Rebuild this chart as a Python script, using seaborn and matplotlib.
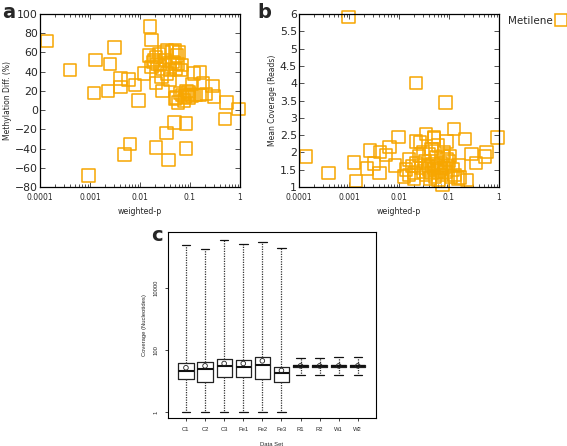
import matplotlib
matplotlib.use("Agg")
import pandas as pd
import matplotlib.pyplot as plt
import seaborn as sns
from matplotlib.lines import Line2D

sns.set_style("ticks")
plt.rcParams['font.family'] = ['DejaVu Sans']

orange = '#F7A600'

# panel a: weighted-p vs methylation difference
p_a = [0.00014, 0.0004, 0.00093, 0.0013, 0.0012, 0.0025, 0.0023, 0.0031, 0.0041, 0.0041,
       0.0059, 0.0049, 0.0063, 0.0079, 0.0093, 0.012, 0.016, 0.017, 0.015, 0.021,
       0.034, 0.037, 0.028, 0.021, 0.049, 0.083, 0.083, 0.5, 0.54, 0.93,
       0.30, 0.28, 0.21, 0.16, 0.18, 0.12, 0.16, 0.11,
       0.052, 0.063, 0.08, 0.093, 0.058, 0.07, 0.1, 0.05, 0.075, 0.085, 0.11, 0.13, 0.095,
       0.019, 0.021, 0.024, 0.03, 0.035, 0.045, 0.05, 0.055, 0.045, 0.04, 0.035, 0.04,
       0.052, 0.028, 0.022, 0.017, 0.025, 0.05, 0.058, 0.032, 0.06, 0.027, 0.065, 0.018, 0.07]
diff_a = [72, 42, -68, 52, 18, 48, 20, 65, 33, 24,
          32, -46, -35, 26, 10, 38, 87, 73, 57, -39,
          -24, -52, 20, 28, -13, -14, -40, -9, 8, 1,
          14, 25, 17, 16, 28, 38, 39, 27,
          13, 18, 14, 19, 8, 16, 17, 12, 10, 20, 15, 16, 13,
          52, 55, 58, 60, 62, 61, 62, 57, 50, 42, 38, 32,
          43, 43, 48, 45, 47, 48, 48, 52, 60, 35, 42, 50, 47]

# panel b: weighted-p vs mean coverage
p_b = [0.00097, 0.022, 0.086, 0.00014, 0.00039, 0.00126, 0.00138, 0.0026, 0.0023, 0.0032,
       0.0041, 0.0042, 0.0055, 0.0065, 0.0098, 0.0083, 0.0126, 0.022, 0.035, 0.05,
       0.089, 0.126, 0.21, 0.28, 0.35, 0.56, 0.52, 0.93, 0.23, 0.166, 0.074, 0.155,
       0.014, 0.016, 0.018, 0.02, 0.022, 0.025, 0.028, 0.03, 0.033, 0.035, 0.038, 0.04,
       0.042, 0.045, 0.047, 0.05, 0.052, 0.055, 0.058, 0.06, 0.062, 0.065, 0.07, 0.072,
       0.075, 0.08, 0.085, 0.09, 0.095, 0.1, 0.105, 0.12, 0.03, 0.045, 0.06, 0.08,
       0.04, 0.11, 0.13, 0.15, 0.02, 0.016, 0.026, 0.05]
cov_b = [5.92, 4.01, 3.44, 1.88, 1.41, 1.71, 1.17, 2.05, 1.54, 1.68,
         1.41, 2.02, 1.92, 2.16, 2.45, 1.62, 1.3, 2.31, 2.53, 2.45,
         2.31, 2.67, 2.38, 1.95, 1.7, 2.02, 1.88, 2.43, 1.2, 1.28, 1.06, 1.64,
         1.5, 1.8, 1.6, 1.4, 1.7, 1.9, 1.55, 1.45, 1.75, 1.35, 1.6, 1.5,
         1.25, 1.4, 1.65, 1.55, 1.3, 1.85, 1.45, 1.6, 1.2, 1.5, 1.7, 1.35,
         1.9, 1.55, 1.45, 1.8, 1.6, 1.75, 1.9, 1.5, 2.0, 2.1, 2.2, 2.0,
         1.95, 1.3, 1.35, 1.25, 1.25, 1.35, 2.3, 2.4]

p_ticks = [0.0001, 0.001, 0.01, 0.1, 1]
p_labels = ['0.0001', '0.001', '0.01', '0.1', '1']

# panel c: coverage per data set (five-number summaries + mean)
sets = ['C1', 'C2', 'C3', 'Fe1', 'Fe2', 'Fe3', 'R1', 'R2', 'W1', 'W2']
cov_min = [1, 1, 1, 1, 1, 1, 16, 16, 16, 16]
cov_q1 = [11.3, 9.5, 13.5, 13.5, 11.3, 9.5, 28, 28, 28, 28]
cov_med = [21.5, 24, 30, 27.6, 33.6, 18.5, 31, 31, 31, 31]
cov_q3 = [37, 42, 50, 48, 61, 29, 34, 34, 34, 34]
cov_max = [245000, 178000, 355000, 263000, 310000, 200000, 56, 57, 60, 60]
cov_mean = [27, 31, 37, 37, 45, 22, 31, 31, 31, 31]

fig = plt.figure(figsize=(5.67, 4.46), dpi=100)


def gnuplot_axes(ax):
    ax.set_xscale('log')
    ax.set_xlim(1e-4, 1)
    ax.set_xticks(p_ticks)
    ax.set_xticklabels(p_labels, fontsize=5.5)
    ax.tick_params(axis='both', which='both', direction='in', top=True, right=True,
                   width=0.6, color='#333333')
    ax.tick_params(axis='both', which='major', length=3.5)
    ax.tick_params(axis='both', which='minor', length=2)
    ax.tick_params(axis='y', labelsize=7.8, pad=1.5)
    ax.tick_params(axis='x', pad=4)
    for s in ax.spines.values():
        s.set_linewidth(0.9)
        s.set_color('black')
    ax.set_xlabel('weighted-p', fontsize=5.7, labelpad=4)


# a
ax_a = fig.add_axes([0.0705, 0.5807, 0.3527, 0.3879])
sns.scatterplot(x=p_a, y=diff_a, ax=ax_a, marker='s', s=80, facecolor='none',
                edgecolor=orange, linewidth=1.1, clip_on=False, legend=False)
gnuplot_axes(ax_a)
ax_a.set_ylim(-80, 100)
ax_a.set_yticks(range(-80, 101, 20))
ax_a.set_ylabel('Methylation Diff. (%)', fontsize=5.5, labelpad=2)

# b
ax_b = fig.add_axes([0.5273, 0.5807, 0.3527, 0.3879])
sns.scatterplot(x=p_b, y=cov_b, ax=ax_b, marker='s', s=80, facecolor='none',
                edgecolor=orange, linewidth=1.1, clip_on=False, legend=False)
gnuplot_axes(ax_b)
ax_b.set_ylim(1, 6)
ax_b.set_yticks([1, 1.5, 2, 2.5, 3, 3.5, 4, 4.5, 5, 5.5, 6])
ax_b.set_yticklabels(['1', '1.5', '2', '2.5', '3', '3.5', '4', '4.5', '5', '5.5', '6'])
ax_b.set_ylabel('Mean Coverage (Reads)', fontsize=5.5, labelpad=2)
handle = Line2D([], [], marker='s', ls='none', mfc='none', mec=orange, ms=9, mew=1.1)
ax_b.legend(handles=[handle], labels=['Metilene'], loc='center right',
            bbox_to_anchor=(1.0, 1 - 21 / 446), bbox_transform=fig.transFigure,
            frameon=False, markerfirst=False, fontsize=7.5, handlelength=1.0,
            handletextpad=0.3, borderaxespad=0, borderpad=0.1)

# c
ax_c = fig.add_axes([0.2963, 0.0628, 0.3668, 0.417])
rows = []
for i, name in enumerate(sets):
    for v in (cov_min[i], cov_q1[i], cov_med[i], cov_q3[i], cov_max[i]):
        rows.append({'set': name, 'coverage': v})
df_c = pd.DataFrame(rows)
sns.boxplot(data=df_c, x='set', y='coverage', order=sets, ax=ax_c, whis=(0, 100),
            fill=False, width=0.8, color='#222222', linecolor='#222222', linewidth=0.9,
            log_scale=True, capwidths=0.45,
            whiskerprops={'linestyle': (0, (1, 1)), 'color': '#333333', 'linewidth': 0.9},
            medianprops={'color': '#111111', 'linewidth': 1.5},
            capprops={'color': '#111111', 'linewidth': 0.9})
sns.scatterplot(x=sets, y=cov_mean, ax=ax_c, marker='o', s=11, facecolor='none',
                edgecolor='#222222', linewidth=0.6, legend=False, zorder=5)
ax_c.set_yscale('log')
ax_c.set_ylim(10 ** -0.19, 10 ** 5.81)
ax_c.set_xlim(-0.94, 9.95)
ax_c.set_yticks([1, 100, 10000])
ax_c.set_yticklabels(['1', '100', '10000'], rotation=90, va='center', fontsize=4.2,
                     family='Liberation Sans')
ax_c.minorticks_off()
ax_c.set_xticks(range(len(sets)))
ax_c.set_xticklabels(sets, fontsize=4.2, family='Liberation Sans')
ax_c.tick_params(axis='both', direction='out', length=2.5, width=0.6, pad=4)
for s in ax_c.spines.values():
    s.set_linewidth(0.8)
    s.set_color('black')
    s.set_visible(True)
ax_c.set_xlabel('Data Set', fontsize=4.2, family='Liberation Sans', labelpad=7)
ax_c.set_ylabel('Coverage (Nucleotides)', fontsize=4.2, family='Liberation Sans', labelpad=5)

# panel letters
fig.text(2 / 567, 1 - 3 / 446, 'a', fontsize=14, fontweight='bold', va='top')
fig.text(257 / 567, 1 - 3 / 446, 'b', fontsize=14, fontweight='bold', va='top')
fig.text(151 / 567, 1 - 226 / 446, 'c', fontsize=14, fontweight='bold', va='top')

fig.savefig('out.png', dpi=100)
